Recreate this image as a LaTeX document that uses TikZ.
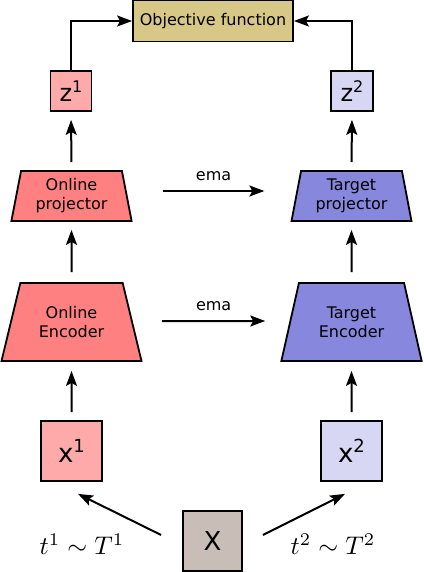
\documentclass[tikz,border=0pt]{standalone}
\usepackage{graphicx}
\usepackage[no-math]{fontspec}
\setmainfont{DejaVu Sans}
\usetikzlibrary{arrows.meta,shapes.geometric,calc}
\definecolor{onlinefill}{HTML}{FF8080}
\definecolor{targetfill}{HTML}{8787DE}
\definecolor{onelight}{HTML}{FFAAAA}
\definecolor{twolight}{HTML}{D7D7F4}
\definecolor{objfill}{RGB}{216,200,135}
\definecolor{imgfill}{HTML}{C8BEB7}
\tikzset{
  box/.style={draw=black, line width=1.8pt, rectangle, inner sep=0pt, align=center},
  trap/.style={draw=black, line width=1.8pt, trapezium, trapezium stretches=true,
    inner sep=0pt, align=center, font=\fontsize{16}{19}\selectfont},
  arr/.style={line width=2pt, -{Stealth[length=15pt,width=11pt,inset=3pt]}},
  lbl/.style={inner sep=0pt, font=\fontsize{16}{19}\selectfont},
  mathlbl/.style={inner sep=0pt}
}
\begin{document}
\begin{tikzpicture}[x=1pt, y=-1pt]
\useasboundingbox (0,0) rectangle (423,572);
% top objective
\node[box, fill=objfill, minimum width=160pt, minimum height=41pt,
  font=\fontsize{16}{19}\selectfont] (obj) at (213,21) {Objective function};
% z boxes
\node[box, fill=onelight, minimum width=41pt, minimum height=40pt] (z1) at (71,91)
  {\fontsize{24}{24}\selectfont z\raisebox{9pt}{\fontsize{16}{16}\selectfont 1}};
\node[box, fill=twolight, minimum width=42pt, minimum height=40pt] (z2) at (352,91)
  {\fontsize{24}{24}\selectfont z\raisebox{9pt}{\fontsize{16}{16}\selectfont 2}};
% projectors
\node[trap, fill=onlinefill, trapezium left angle=78.7, trapezium right angle=78.7,
  minimum width=121pt, minimum height=50pt] (proj1) at (71.5,196) {Online\\projector};
\node[trap, fill=targetfill, trapezium left angle=78.7, trapezium right angle=78.7,
  minimum width=121pt, minimum height=50pt] (proj2) at (351.5,196) {Target\\projector};
% encoders
\node[trap, fill=onlinefill, trapezium left angle=69, trapezium right angle=69,
  minimum width=141pt, minimum height=78pt] (enc1) at (71.5,322) {Online\\Encoder};
\node[trap, fill=targetfill, trapezium left angle=70.5, trapezium right angle=70.5,
  minimum width=141pt, minimum height=78pt] (enc2) at (351.5,322) {Target\\Encoder};
% views
\node[box, fill=onelight, minimum width=61pt, minimum height=60pt] (x1) at (71.5,451)
  {\fontsize{26}{26}\selectfont x\raisebox{9.5pt}{\fontsize{18}{18}\selectfont 1}};
\node[box, fill=twolight, minimum width=61pt, minimum height=60pt] (x2) at (351.5,451)
  {\fontsize{26}{26}\selectfont x\raisebox{9.5pt}{\fontsize{18}{18}\selectfont 2}};
% image
\node[box, fill=imgfill, minimum width=59pt, minimum height=60pt] (X) at (212.5,541)
  {\fontsize{26}{26}\selectfont X};
% transformation labels
\node[mathlbl] (t1) at (82,544) {\scalebox{2.55}{$t^1\sim T^1$}};
\node[mathlbl] (t2) at (333,544) {\scalebox{2.55}{$t^2\sim T^2$}};
% connectors
\draw[arr] (z1.north) |- (obj.west);
\draw[arr] (z2.north) |- (obj.east);
\draw[arr, shorten <=8pt, shorten >=8pt] (proj1.north) -- (z1.south);
\draw[arr, shorten <=8pt, shorten >=8pt] (proj2.north) -- (z2.south);
\draw[arr, shorten <=10pt, shorten >=8pt] (enc1.north) -- (proj1.south);
\draw[arr, shorten <=10pt, shorten >=8pt] (enc2.north) -- (proj2.south);
\draw[arr, shorten <=8pt, shorten >=9pt] (x1.north) -- (enc1.south);
\draw[arr, shorten <=8pt, shorten >=9pt] (x2.north) -- (enc2.south);
\draw[arr] ($(proj1.east)+(35,-5)$) -- node[lbl, midway, above=9pt] (ema1) {ema} ($(proj2.west)+(-31,-5)$);
\draw[arr] ($(enc1.east)+(29,-1)$) -- node[lbl, midway, above=9pt] (ema2) {ema} ($(enc2.west)+(-24,-1)$);
\draw[arr] ($(X.west)+(-21,-6)$) -- ($(x1.south)+(6.5,12)$);
\draw[arr] ($(X.east)+(20,-6)$) -- ($(x2.south)+(-6.5,12)$);
\end{tikzpicture}
\end{document}
